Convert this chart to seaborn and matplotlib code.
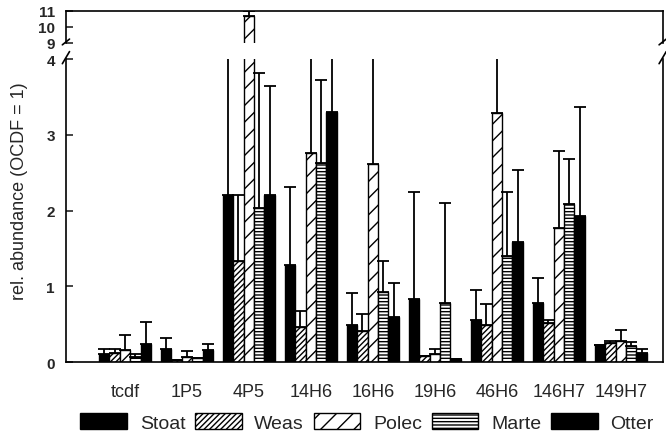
import pandas as pd
import matplotlib
matplotlib.use("Agg")
import matplotlib.pyplot as plt
import matplotlib.patches as mpatches
import seaborn as sns

# Data (mean and upper error)
categories = ["tcdf", "1P5", "4P5", "14H6", "16H6", "19H6", "46H6", "146H7", "149H7"]
species = ["Stoat", "Weas", "Polec", "Marte", "Otter"]

stoat = [0.10, 0.17, 2.20, 1.28, 0.49, 0.83, 0.56, 0.78, 0.23]
weas = [0.12, 0.03, 1.33, 0.46, 0.41, 0.08, 0.49, 0.52, 0.25]
polec = [0.16, 0.07, 10.7, 2.76, 2.61, 0.10, 3.29, 1.77, 0.28]
marte = [0.07, 0.06, 2.04, 2.63, 0.92, 0.78, 1.40, 2.09, 0.21]
otter = [0.24, 0.16, 2.21, 3.30, 0.59, 0.04, 1.58, 1.93, 0.12]

stoat_sd = [0.07, 0.15, 2.40, 1.03, 0.42, 1.42, 0.39, 0.33, 0.00]
weas_sd = [0.05, 0.00, 0.87, 0.21, 0.23, 0.00, 0.28, 0.04, 0.03]
polec_sd = [0.20, 0.08, 0.30, 1.80, 1.80, 0.07, 1.50, 1.02, 0.14]
marte_sd = [0.03, 0.00, 1.78, 1.09, 0.41, 1.32, 0.84, 0.59, 0.05]
otter_sd = [0.29, 0.08, 1.43, 1.50, 0.45, 0.00, 0.96, 1.44, 0.05]

means = [stoat, weas, polec, marte, otter]
sds = [stoat_sd, weas_sd, polec_sd, marte_sd, otter_sd]

df = pd.DataFrame({
    "cat": categories * len(species),
    "species": [s for s in species for _ in categories],
    "value": [v for m in means for v in m],
})

hatches = [None, "//////", "//", "-----", None]
faces = ["black", "white", "white", "white", "black"]

sns.set_style("ticks")
plt.rcParams["font.family"] = ["Liberation Sans", "DejaVu Sans"]
plt.rcParams["hatch.linewidth"] = 1.0

fig = plt.figure(figsize=(6.66, 4.39), dpi=100)
ax = fig.add_axes([0.099, 0.173, 0.896, 0.690])
ax_top = fig.add_axes([0.099, 0.900, 0.896, 0.0729])


def draw(axis):
    sns.barplot(data=df, x="cat", y="value", hue="species", order=categories,
                hue_order=species, width=0.84, errorbar=None, ax=axis,
                legend=False, saturation=1)
    bar_conts = list(axis.containers)
    for i, cont in enumerate(bar_conts):
        xs = []
        for bar in cont:
            bar.set_facecolor(faces[i])
            bar.set_edgecolor("black")
            bar.set_linewidth(1.0)
            if hatches[i]:
                bar.set_hatch(hatches[i])
            xs.append(bar.get_x() + bar.get_width() / 2)
        axis.errorbar(xs, means[i], yerr=[[0] * len(sds[i]), sds[i]], fmt="none",
                      ecolor="black", elinewidth=1.3, capsize=4, capthick=1.3)


draw(ax)
draw(ax_top)

for a in (ax, ax_top):
    a.set_xlim(-0.952, 8.677)
    a.set_xlabel("")
    a.set_ylabel("")
    for s in a.spines.values():
        s.set_linewidth(1.2)
        s.set_color("black")
    a.tick_params(axis="y", direction="in", length=5, width=1.2, pad=8)

ax.set_ylim(0, 4)
ax.set_yticks([0, 1, 2, 3, 4])
ax.set_yticklabels(["0", "1", "2", "3", "4"], fontweight="bold", fontsize=11)
ax.spines["top"].set_visible(False)
ax.tick_params(axis="x", length=0, pad=15, labelsize=13)

ax_top.set_ylim(9, 11)
ax_top.set_yticks([9, 10, 11])
ax_top.set_yticklabels(["9", "10", "11"], fontweight="bold", fontsize=11)
ax_top.spines["bottom"].set_visible(False)
ax_top.set_xticks([])

# break marks
kw = dict(color="black", lw=1.2, clip_on=False)
for xa in (0, 1):
    ax.plot([xa - 0.006, xa + 0.006], [0.985, 1.025], transform=ax.transAxes, **kw)
    ax_top.plot([xa - 0.006, xa + 0.006], [-0.06, 0.12], transform=ax_top.transAxes, **kw)

fig.text(0.030, 0.565, "rel. abundance (OCDF = 1)", rotation=90,
         ha="center", va="center", fontsize=13)

handles = [mpatches.Patch(facecolor=faces[i], edgecolor="black", hatch=hatches[i])
           for i in range(len(species))]
fig.legend(handles, species, loc="center", bbox_to_anchor=(0.551, 0.036),
           ncol=5, frameon=False, fontsize=14, handlelength=2.4, handleheight=0.9,
           handletextpad=0.65, columnspacing=0.5, borderpad=0.2)

fig.savefig("out.png", dpi=100)
